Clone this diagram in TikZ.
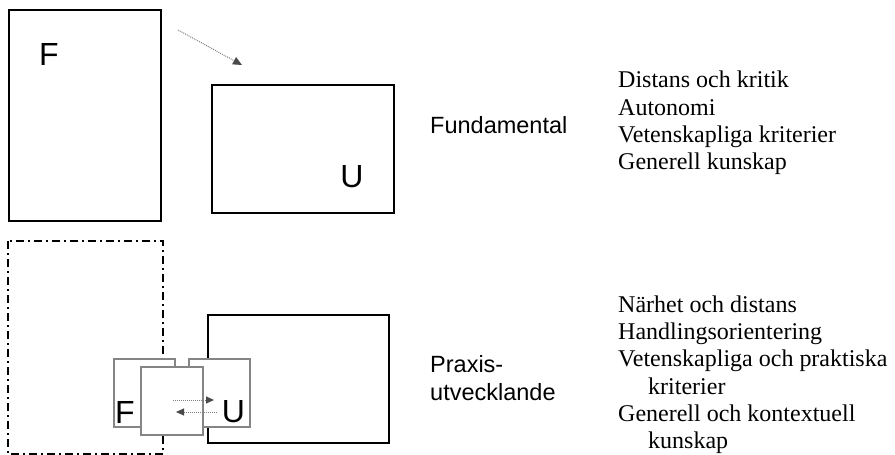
\documentclass[tikz,border=0pt]{standalone}
\usepackage{fontspec}
\setmainfont{Liberation Serif}
\setsansfont{Liberation Sans}
\usetikzlibrary{arrows.meta}
\definecolor{boxgrey}{HTML}{858585}
\definecolor{tipgrey}{HTML}{4A4A4A}

\begin{document}
\begin{tikzpicture}[x=1pt,y=-1pt,
  frame/.style={draw,line width=2pt,fill=white,inner sep=0pt,anchor=north west},
  mini/.style={frame,draw=boxgrey,line width=1.5pt},
  letter/.style={font=\sffamily\fontsize{32}{32}\selectfont,inner sep=0pt},
  kind/.style={font=\sffamily\fontsize{23.5}{28}\selectfont,inner sep=0pt,anchor=base west},
  props/.style={font=\fontsize{24}{27.3}\selectfont,align=left,inner sep=0pt,anchor=north west},
  flow/.style={-{Triangle[length=9pt,width=8pt,color=tipgrey]},draw=black!50,line width=1pt,
               dash pattern=on 1pt off 1pt}]
\useasboundingbox (0,0) rectangle (895,455);

% fundamental
\node[frame,minimum width=152,minimum height=211] (fTop) at (8,9) {};
\node[letter] (fTopL) at (49,54.5) {F};
\node[frame,minimum width=182,minimum height=128] (uTop) at (211,84) {};
\node[letter] (uTopL) at (352,177) {U};
\coordinate (aS) at (178,30); \coordinate (aE) at (242,65);
\draw[flow] (aS) -- (aE);

% praxisutvecklande
\node[frame,draw=none,fill=none,minimum width=153,minimum height=211] (fBot) at (8,241) {};
\draw[line width=2pt,dash pattern=on 8pt off 4pt on 2pt off 4pt]
  (fBot.north west) rectangle (fBot.south east);
\node[frame,minimum width=181,minimum height=128] (uBot) at (207,314) {};
\node[mini,minimum width=61,minimum height=68] (fMini) at (113,358) {};
\node[mini,minimum width=61,minimum height=68] (uMini) at (188,358) {};
\node[mini,minimum width=62,minimum height=68] (mid) at (140,366) {};
\node[letter] (fMiniL) at (125,412) {F};
\node[letter] (uMiniL) at (233.5,412) {U};
\coordinate (r1) at (173,400); \coordinate (r2) at (214,400);
\coordinate (l1) at (217,412); \coordinate (l2) at (176,412);
\draw[flow,line width=0.9pt,-{Triangle[length=8pt,width=7pt,color=tipgrey]}] (r1) -- (r2);
\draw[flow,line width=0.9pt,-{Triangle[length=8pt,width=7pt,color=tipgrey]}] (l1) -- (l2);

% labels
\node[kind] (fundLabel) at (430,133) {Fundamental};
\node[kind] (praxisLabel) at (430,372) {Praxis-};
\node[kind] (praxisLabel2) at (430,400) {utvecklande};
\node[props] (fundList) at (618,70.9) {Distans och kritik\\Autonomi\\
  Vetenskapliga kriterier\\Generell kunskap};
\node[props] (praxisList) at (618,295.3) {N\"arhet och distans\\Handlingsorientering\\
  Vetenskapliga och praktiska\\\hspace*{30pt}kriterier\\Generell och kontextuell\\
  \hspace*{30pt}kunskap};
\end{tikzpicture}
\end{document}
